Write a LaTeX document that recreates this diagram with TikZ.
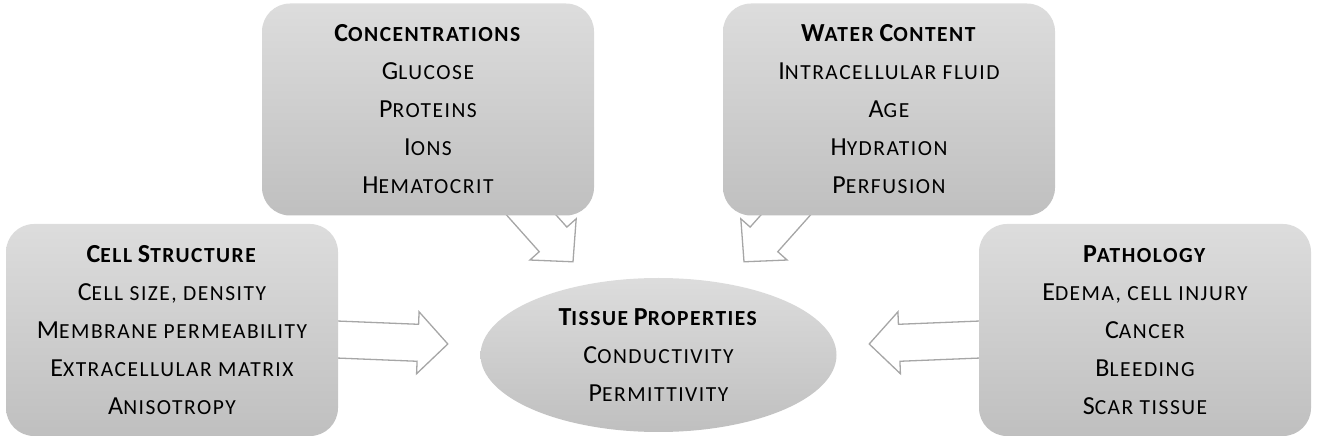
\documentclass[tikz,border=0pt]{standalone}
\usepackage{fontspec}
\setmainfont{Carlito}
\usetikzlibrary{shapes.geometric,calc,backgrounds}

% small capitals made by hand (Carlito has none)
\newcommand\sm[1]{{\fontsize{21.5}{38}\selectfont\addfontfeature{LetterSpace=7}\MakeUppercase{#1}}}

\tikzset{
  box/.style={rectangle, rounded corners=28pt, top color=gray!27, bottom color=gray!50,
    minimum width=332pt, minimum height=212pt, align=center,
    font=\fontsize{26}{38}\selectfont},
  hub/.style={ellipse, top color=gray!27, bottom color=gray!50,
    minimum width=356pt, minimum height=154pt, align=center,
    font=\fontsize{26}{38}\selectfont},
  fatarrow/.style={draw=gray!70, fill=white, line width=1.3pt, line join=miter}
}

% hollow block arrow from #1 (tail) to #2 (tip)
\newcommand\blockarrow[2]{%
  \coordinate (ba) at ($(#2)!30pt!(#1)$);
  \draw[fatarrow] ($(#1)!18.5pt!90:(#2)$) -- ($(ba)!18.5pt!-90:(#1)$)
    -- ($(ba)!31pt!-90:(#1)$) -- (#2) -- ($(ba)!31pt!90:(#1)$)
    -- ($(ba)!18.5pt!90:(#1)$) -- ($(#1)!18.5pt!-90:(#2)$) -- cycle;}

\begin{document}
\begin{tikzpicture}[x=1pt,y=1pt]
	\useasboundingbox (0,0) rectangle (1317,439);

	\node[hub] (tissue) at (658.5,84)
	  {\textbf{T\sm{issue} P\sm{roperties}}\\C\sm{onductivity}\\P\sm{ermittivity}};
	\node[box] (conc) at (428,329.5)
	  {\textbf{C\sm{oncentrations}}\\G\sm{lucose}\\P\sm{roteins}\\I\sm{ons}\\H\sm{ematocrit}};
	\node[box] (water) at (889,329.5)
	  {\textbf{W\sm{ater} C\sm{ontent}}\\I\sm{ntracellular fluid}\\A\sm{ge}\\H\sm{ydration}\\P\sm{erfusion}};
	\node[box] (cell) at (172,109)
	  {\textbf{C\sm{ell} S\sm{tructure}}\\C\sm{ell size, density}\\M\sm{embrane permeability}\\E\sm{xtracellular matrix}\\A\sm{nisotropy}};
	\node[box] (patho) at (1145,109)
	  {\textbf{P\sm{athology}}\\E\sm{dema, cell injury}\\C\sm{ancer}\\B\sm{leeding}\\S\sm{car tissue}};

	% arrow ends
	\coordinate (c1) at ($(conc.south)+(87,19)$);
	\coordinate (c2) at ($(tissue.north)+(-85.5,16)$);
	\coordinate (w1) at ($(water.south)+(-87,19)$);
	\coordinate (w2) at ($(tissue.north)+(85.5,16)$);
	\coordinate (l1) at ($(cell.east)+(-14,-9)$);
	\coordinate (l2) at ($(tissue.west)+(-32.5,11)$);
	\coordinate (r1) at ($(patho.west)+(14,-9)$);
	\coordinate (r2) at ($(tissue.east)+(32.5,11)$);

	\begin{scope}[on background layer]
	\blockarrow{c1}{c2}
	\blockarrow{w1}{w2}
	\blockarrow{l1}{l2}
	\blockarrow{r1}{r2}
	\end{scope}
\end{tikzpicture}
\end{document}
